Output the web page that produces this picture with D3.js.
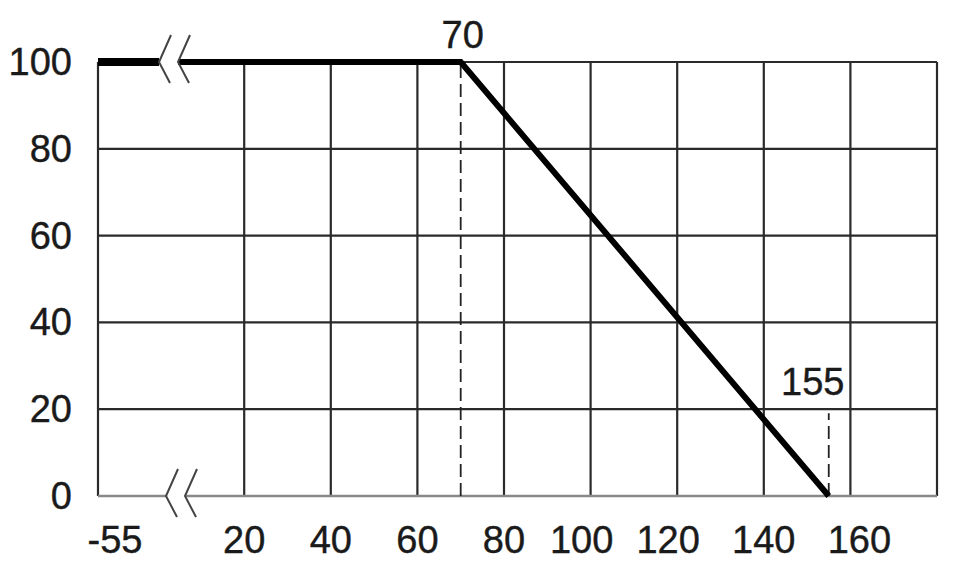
<!DOCTYPE html>
<html>
<head>
<meta charset="utf-8">
<script src="https://cdn.jsdelivr.net/npm/d3@7"></script>
<style>
  body { margin: 0; background: #fff; }
  text { font-family: "Liberation Sans", Arial, sans-serif; fill: #1a1a1a; stroke: #1a1a1a; stroke-width: 0.4; }
</style>
</head>
<body>
<script>
const xTicks = [-55, 20, 40, 60, 80, 100, 120, 140, 160];
const xGrid = [20, 40, 60, 80, 100, 120, 140, 160, 180];
const yTicks = [0, 20, 40, 60, 80, 100];
const curve = [[-55, 100], [70, 100], [155, 0]];
const marks = [70, 155];   // dashed markers with labels

const width = 954, height = 574;
const svg = d3.select('body').append('svg').attr('width', width).attr('height', height);

// broken axis: -55 squeezed into the first cell
const x = d3.scaleLinear().domain([-55, 0, 180]).range([98, 157.6, 937]);
const y = d3.scaleLinear().domain([0, 100]).range([496, 62]);

const grid = svg.append('g').attr('stroke', '#2a2a2a').attr('stroke-width', 2.2);

// horizontal gridlines (not the 0 axis)
grid.selectAll('.h').data(yTicks.filter(d => d > 0)).enter().append('line')
  .attr('x1', x(-55)).attr('x2', x(180))
  .attr('y1', d => y(d)).attr('y2', d => y(d));

// vertical gridlines + frame
grid.selectAll('.v').data(xGrid).enter().append('line')
  .attr('x1', d => x(d)).attr('x2', d => x(d))
  .attr('y1', y(0)).attr('y2', y(100));
grid.append('line').attr('x1', x(-55)).attr('x2', x(-55)).attr('y1', y(0)).attr('y2', y(100));

// bottom axis, lighter
svg.append('line').attr('x1', x(-55)).attr('x2', x(180)).attr('y1', y(0)).attr('y2', y(0))
  .attr('stroke', '#888').attr('stroke-width', 2.5);

// dashed markers
svg.selectAll('.dash').data(marks).enter().append('line')
  .attr('x1', d => x(d)).attr('x2', d => x(d))
  .attr('y1', y(0)).attr('y2', (d, i) => i === 0 ? y(100) : y(20) + 4)
  .attr('stroke', '#222').attr('stroke-width', 1.8).attr('stroke-dasharray', '13,6');

// the derating curve
const line = d3.line().x(d => x(d[0])).y(d => y(d[1]));
svg.append('path').datum(curve).attr('d', line)
  .attr('fill', 'none').attr('stroke', '#000').attr('stroke-width', 6).attr('stroke-linejoin', 'miter');
svg.append('clipPath').attr('id', 'stub').append('rect')
  .attr('x', 0).attr('y', 0).attr('width', 162).attr('height', 100);
svg.append('path').datum(curve.slice(0, 2)).attr('d', line)
  .attr('fill', 'none').attr('stroke', '#000').attr('stroke-width', 8)
  .attr('clip-path', 'url(#stub)');

// break symbols, top and bottom
function breakMark(px, py) {
  svg.append('rect').attr('x', px).attr('y', py - 6).attr('width', 19).attr('height', 12).attr('fill', '#fff');
  [0, 19].forEach(off => {
    svg.append('path')
      .attr('d', `M${px + off + 12},${py - 27} L${px + off},${py} L${px + off + 11},${py + 21}`)
      .attr('fill', 'none').attr('stroke', '#444').attr('stroke-width', 2);
  });
}
breakMark(159, y(100));
breakMark(166, y(0));

// y labels
svg.selectAll('.yl').data(yTicks).enter().append('text')
  .attr('x', 72).attr('y', d => y(d) + 13)
  .attr('text-anchor', 'end').attr('font-size', 38)
  .text(d => d);

// x labels (small nudges to follow the original placement)
const nudge = { '-55': 17, '100': -9, '120': -9, '160': 9 };
svg.selectAll('.xl').data(xTicks).enter().append('text')
  .attr('x', d => x(d) + (nudge[d] || 0)).attr('y', 553)
  .attr('text-anchor', 'middle').attr('font-size', 38)
  .text(d => d);

// marker labels
svg.selectAll('.ml').data(marks).enter().append('text')
  .attr('x', (d, i) => x(d) + (i === 0 ? 2 : -16))
  .attr('y', (d, i) => i === 0 ? 48 : 395)
  .attr('text-anchor', 'middle').attr('font-size', 38)
  .text(d => d);
</script>
</body>
</html>
